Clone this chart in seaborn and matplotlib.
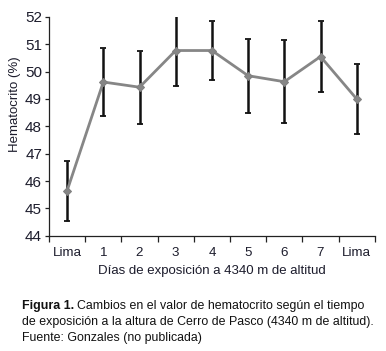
import matplotlib
matplotlib.use('Agg')
import matplotlib.pyplot as plt
import seaborn as sns
import numpy as np
import pandas as pd

# data
dias = ['Lima', '1', '2', '3', '4', '5', '6', '7', 'Lima']
hematocrito = [45.65, 49.62, 49.43, 50.77, 50.77, 49.85, 49.63, 50.55, 49.0]
error = [1.1, 1.23, 1.33, 1.3, 1.08, 1.35, 1.52, 1.3, 1.28]

TXT = '#1c1c2c'

sns.set_style('ticks')
plt.rcParams['font.family'] = ['Liberation Sans', 'DejaVu Sans']

df = pd.DataFrame({'pos': np.arange(len(dias)), 'hto': hematocrito, 'err': error})

fig = plt.figure(figsize=(3.86, 3.51), dpi=100)
ax = fig.add_axes([0.127, 0.328, 0.844, 0.624])

ax.errorbar(df['pos'], df['hto'], yerr=df['err'], fmt='none', ecolor='#111111',
            elinewidth=1.8, capsize=2.5, capthick=1.3, zorder=2)
sns.lineplot(data=df, x='pos', y='hto', ax=ax, color='#868686', linewidth=2.0,
             marker='D', markersize=4.5, markeredgecolor='#808080', zorder=3)

ax.set_xlim(-0.5, len(dias) - 0.5)
ax.set_ylim(44, 52)
ax.set_yticks(range(44, 53))
ax.set_xticks(df['pos'])
ax.set_xticklabels(dias)
ax.set_xticks(np.arange(-0.5, len(dias), 1), minor=True)
ax.tick_params(axis='x', which='major', length=0, pad=8, labelsize=9.6, labelcolor=TXT)
ax.tick_params(axis='x', which='minor', length=4, width=0.9, color='#222222')
ax.tick_params(axis='y', length=3, width=0.9, color='#222222', labelsize=11,
               labelcolor=TXT, pad=2)
for s in ['top', 'right']:
    ax.spines[s].set_visible(False)
for s in ['left', 'bottom']:
    ax.spines[s].set_color('#222222')
    ax.spines[s].set_linewidth(0.9)

ax.set_xlabel('Días de exposición a 4340 m de altitud', fontsize=9.5, color=TXT, labelpad=4)
ax.set_ylabel('Hematocrito (%)', fontsize=9.5, color=TXT)
ax.yaxis.set_label_coords(-0.086, 0.6)

# caption
cap_x = 22 / 386
fs = 8.9
t = fig.text(cap_x, 1 - 306 / 351, 'Figura 1.', fontsize=fs, fontweight='bold',
             color='#111111', va='center')
fig.canvas.draw()
bb = t.get_window_extent()
fig.text(bb.x1 / fig.bbox.width + 0.008, 1 - 306 / 351,
         'Cambios en el valor de hematocrito según el tiempo',
         fontsize=fs, color='#111111', va='center')
fig.text(cap_x, 1 - 322 / 351,
         'de exposición a la altura de Cerro de Pasco (4340 m de altitud).',
         fontsize=fs, color='#111111', va='center')
fig.text(cap_x, 1 - 338 / 351, 'Fuente: Gonzales (no publicada)',
         fontsize=fs, color='#111111', va='center')

fig.savefig('out.png', dpi=100)
